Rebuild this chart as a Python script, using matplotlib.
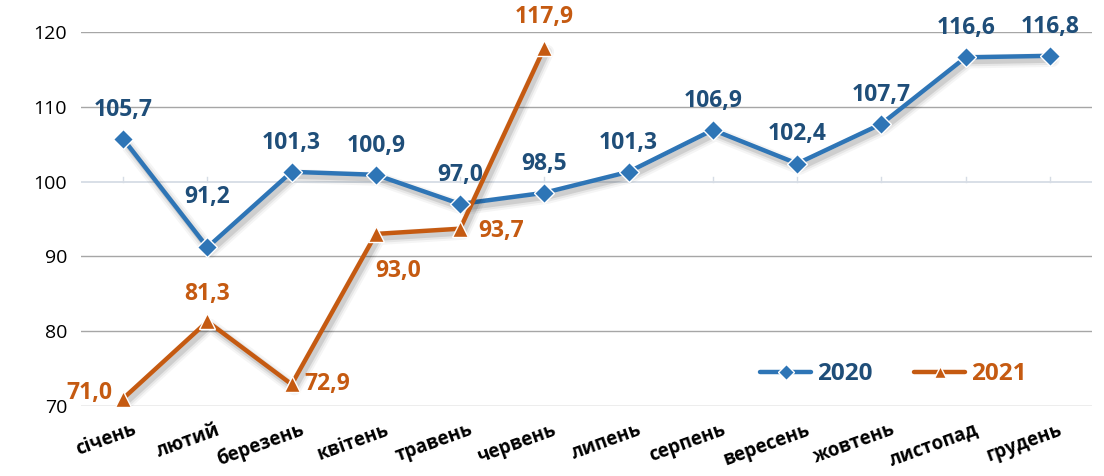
import numpy as np
import matplotlib.pyplot as plt
import matplotlib.patheffects as pe
from matplotlib.lines import Line2D

months = ['січень', 'лютий', 'березень', 'квітень', 'травень', 'червень',
          'липень', 'серпень', 'вересень', 'жовтень', 'листопад', 'грудень']
v2020 = [105.7, 91.2, 101.3, 100.9, 97.0, 98.5, 101.3, 106.9, 102.4, 107.7, 116.6, 116.8]
v2021 = [71.0, 81.3, 72.9, 93.0, 93.7, 117.9]
yticks = [70, 80, 90, 100, 110, 120]

blue = '#2E75B6'
blue_txt = '#1F4E79'
orange = '#C55A11'

plt.rcParams['font.family'] = ['Open Sans', 'DejaVu Sans']

fig = plt.figure(figsize=(11.04, 4.76), dpi=100)
ax = fig.add_axes([0.0734, 0.147, 0.9158, 0.786])

x20 = np.arange(len(v2020))
x21 = np.arange(len(v2021))

# gridlines
for t in yticks:
    if t == 100:
        ax.axhline(t, color='#D6DCE5', lw=1.3, zorder=0)
    else:
        ax.axhline(t, color='#A6A6A6', lw=1.0, zorder=0)
# small ticks on the 100 axis line
for xi in x20:
    ax.plot([xi, xi], [100, 100.6], color='#D6DCE5', lw=1.0, zorder=0)

# soft shadow: a few wide, faint strokes offset down-right
shadow = [pe.Stroke(offset=(2, -3), linewidth=10, foreground='#000000', alpha=0.04),
          pe.Stroke(offset=(2, -3), linewidth=7, foreground='#000000', alpha=0.06),
          pe.Stroke(offset=(2, -3), linewidth=4, foreground='#000000', alpha=0.10),
          pe.Normal()]

ax.plot(x20, v2020, color=blue, lw=3.2, zorder=3, path_effects=shadow,
        solid_capstyle='round')
ax.plot(x21, v2021, color=orange, lw=3.2, zorder=4, path_effects=shadow,
        solid_capstyle='round')
ax.plot(x20, v2020, ls='none', marker='D', ms=10, mfc=blue, mec='white',
        mew=1.0, zorder=5)
ax.plot(x21, v2021, ls='none', marker='^', ms=12, mfc=orange, mec='white',
        mew=1.0, zorder=6)

def fmt(v):
    return f'{v:.1f}'.replace('.', ',')

lab_kw = dict(fontsize=16.5, fontweight='bold', textcoords='offset points',
              annotation_clip=False)

# 2020 labels above
for i, v in enumerate(v2020):
    dy = 36 if i == 1 else 21
    ax.annotate(fmt(v), (i, v), xytext=(0, dy), ha='center', va='center',
                color=blue_txt, zorder=7, **lab_kw)

# 2021 labels
off21 = [(-8, 4, 'right'), (0, 20, 'center'), (9, 0, 'left'),
         (16, -27, 'center'), (13, -2, 'left'), (0, 22, 'center')]
for i, v in enumerate(v2021):
    dx, dy, ha = off21[i]
    ax.annotate(fmt(v), (i, v), xytext=(dx, dy), ha=ha, va='center',
                color=orange, zorder=7, **lab_kw)

ax.set_xlim(-0.5, len(months) - 0.5)
ax.set_ylim(70, 120)
ax.set_yticks(yticks)
ax.set_yticklabels([str(t) for t in yticks], fontsize=14)
ax.set_xticks(x20 + 0.1)
ax.set_xticklabels(months, rotation=20, fontsize=13.5, fontweight='bold',
                   ha='right', va='top', rotation_mode='anchor')
ax.tick_params(axis='both', length=0)
ax.tick_params(axis='y', pad=10)
ax.tick_params(axis='x', pad=10)
for s in ax.spines.values():
    s.set_visible(False)

h20 = Line2D([], [], color=blue, lw=3.2, marker='D', ms=8, mfc=blue,
             mec='white', mew=1.0, solid_capstyle='round')
h21 = Line2D([], [], color=orange, lw=3.2, marker='^', ms=9, mfc=orange,
             mec='white', mew=1.0, solid_capstyle='round')
leg = ax.legend(handles=[h20, h21], labels=['2020', '2021'], loc='lower right',
                bbox_to_anchor=(0.957, -0.005), ncol=2, frameon=False,
                handlelength=2.1, columnspacing=1.7, handletextpad=0.25,
                prop={'weight': 'bold', 'size': 17.5})
for txt, c in zip(leg.get_texts(), [blue_txt, orange]):
    txt.set_color(c)

fig.savefig('out.png', dpi=100)
